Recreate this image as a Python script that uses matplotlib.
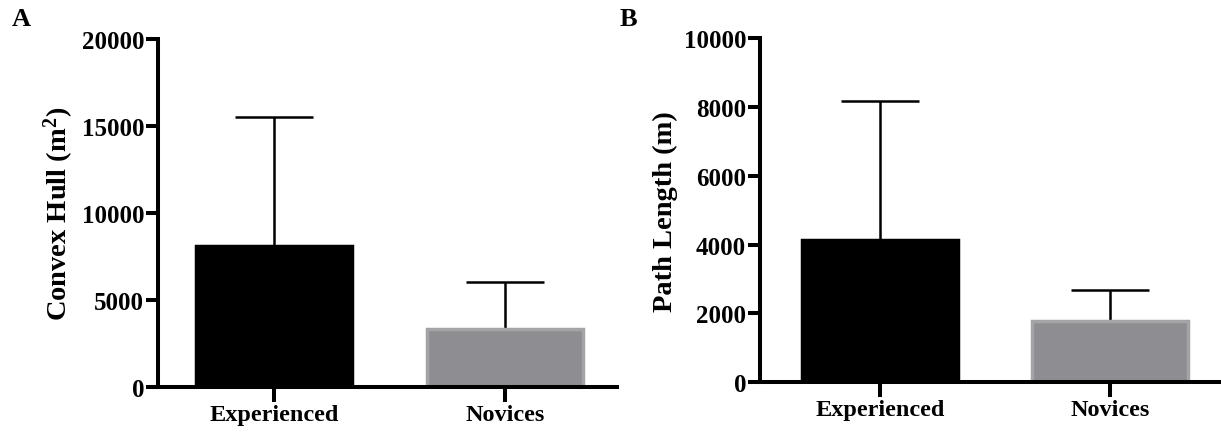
import matplotlib
matplotlib.use("Agg")
import matplotlib.pyplot as plt

plt.rcParams['font.family'] = ['Liberation Serif', 'DejaVu Serif']
plt.rcParams['font.weight'] = 'bold'
plt.rcParams['mathtext.fontset'] = 'custom'
plt.rcParams['mathtext.rm'] = 'Liberation Serif:bold'
plt.rcParams['mathtext.bf'] = 'Liberation Serif:bold'
plt.rcParams['mathtext.default'] = 'bf'

categories = ['Experienced', 'Novices']
hull_mean = [8100, 3330]
hull_sd = [7400, 2690]
path_mean = [4140, 1780]
path_sd = [4030, 900]
hull_ticks = [0, 5000, 10000, 15000, 20000]
path_ticks = [0, 2000, 4000, 6000, 8000, 10000]

fill_colors = ['#000000', '#8e8d92']
edge_colors = ['#000000', '#a4a4a7']

fig = plt.figure(figsize=(12.21, 4.35), dpi=100)
axA = fig.add_axes([158/1221, 1-388/435, (617-158)/1221, (388-40)/435])
axB = fig.add_axes([760/1221, 1-383/435, (1221-760)/1221, (383-39.3)/435])

AXLW = 2.9
FS = 18

def draw(ax, means, sds, ticks, ylabel, xlim):
    x = list(range(len(categories)))
    ax.errorbar(x, means, yerr=[[0]*len(sds), sds], fmt='none', ecolor='black',
                elinewidth=1.8, capsize=28, capthick=1.8, zorder=1)
    ax.bar(x, means, width=0.675, color=fill_colors, edgecolor=edge_colors,
           linewidth=2.5, zorder=2)
    ax.set_xlim(*xlim)
    ax.set_ylim(ticks[0], ticks[-1])
    ax.set_yticks(ticks)
    ax.set_yticklabels([str(t) for t in ticks], fontsize=FS, fontweight='bold')
    ax.set_xticks(x)
    ax.set_xticklabels(categories, fontsize=17.5, fontweight='bold')
    ax.set_ylabel(ylabel, fontsize=20.5, fontweight='bold', labelpad=4)
    for s in ['top', 'right']:
        ax.spines[s].set_visible(False)
    for s in ['left', 'bottom']:
        ax.spines[s].set_linewidth(AXLW)
    ax.tick_params(axis='y', length=9, width=AXLW, pad=1)
    ax.tick_params(axis='x', length=11, width=AXLW, pad=1)
    for sp in ax.spines.values():
        sp.set_zorder(3)

draw(axA, hull_mean, hull_sd, hull_ticks, 'Convex Hull (m$^{2}$)', (-0.502, 1.485))
draw(axB, path_mean, path_sd, path_ticks, 'Path Length (m)', (-0.522, 1.483))

fig.text(12/1221, 1-20/435, 'A', fontsize=19, fontweight='bold', va='center', ha='left')
fig.text(620/1221, 1-20/435, 'B', fontsize=19, fontweight='bold', va='center', ha='left')

fig.savefig('out.png', dpi=100)
